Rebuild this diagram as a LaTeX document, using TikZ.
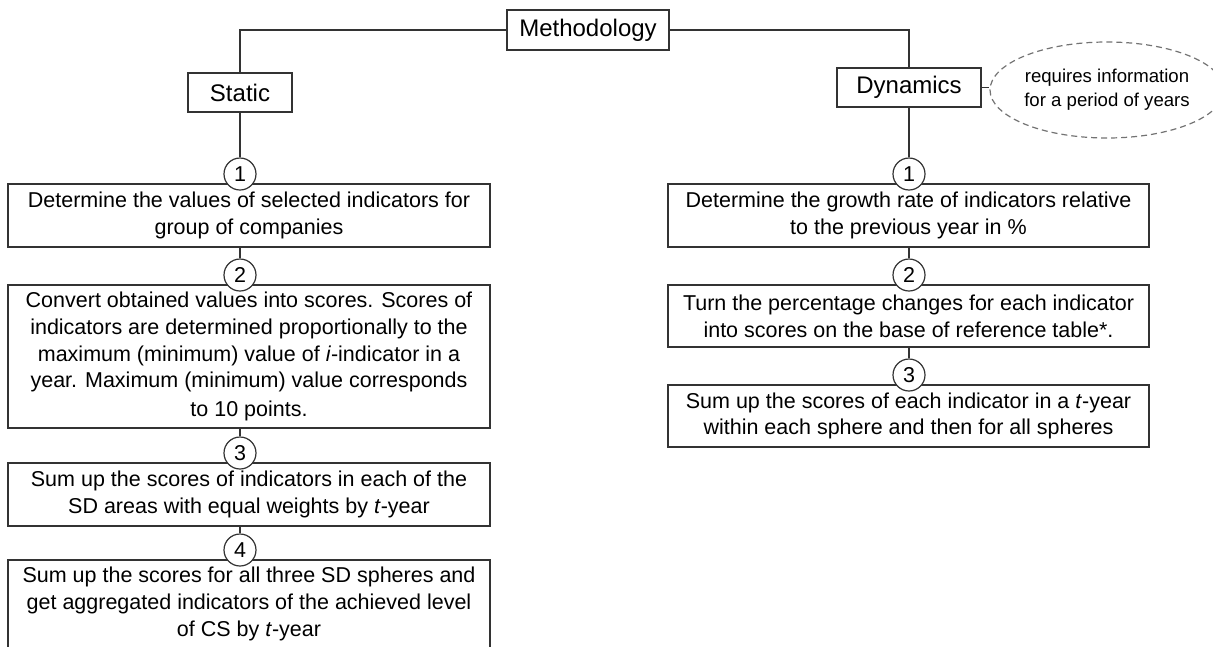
\documentclass[tikz,border=0pt]{standalone}
\usepackage{fontspec}
\setmainfont{Liberation Sans}
\usetikzlibrary{shapes.geometric}
\tikzset{>=latex}
\tikzset{
    wire/.style={draw=black!80, line width=1.2pt},
    head/.style={wire, fill=white, inner sep=0pt, font=\fontsize{24}{28}\selectfont},
    stepbox/.style={wire, fill=white, inner sep=0pt, align=center, font=\fontsize{21.5}{26.7}\selectfont},
    num/.style={wire, circle, fill=white, minimum size=32pt, inner sep=0pt, font=\fontsize{21.5}{26}\selectfont},
    note/.style={ellipse, draw=black!55, dash pattern=on 6pt off 4pt, line width=1.2pt, align=center, inner sep=0pt, font=\fontsize{18.6}{24}\selectfont},
}

\begin{document}
\begin{tikzpicture}[x=1pt,y=-1pt]
    \useasboundingbox (0,0) rectangle (1213,646);

    \node[head, minimum width=162pt, minimum height=40pt] (meth) at (588,30) {Methodology};
    \node[head, minimum width=104pt, minimum height=39pt] (static) at (240,92.5) {Static};
    \node[head, minimum width=144pt, minimum height=39pt] (dyn) at (909,87.5) {Dynamics};
    \node[note, minimum width=202pt, minimum height=96pt] (info) at (1107,90) {requires information\\for a period of years};

    \node[stepbox, minimum width=482pt, minimum height=63pt] (sbox1) at (249,215.5) {Determine the values of selected indicators for\\group of companies};
    \node[stepbox, minimum width=482pt, minimum height=143pt] (sbox2) at (249,356.5) {Convert obtained values into scores. Scores of\\indicators are determined proportionally to the\\maximum (minimum) value of \textit{i}-indicator in a\\year. Maximum (minimum) value corresponds\\[2pt]to 10 points.};
    \node[stepbox, minimum width=482pt, minimum height=63pt] (sbox3) at (249,494.5) {Sum up the scores of indicators in each of the\\SD areas with equal weights by \textit{t}-year};
    \node[stepbox, minimum width=482pt, minimum height=88pt] (sbox4) at (249,604) {Sum up the scores for all three SD spheres and\\get aggregated indicators of the achieved level\\of CS by \textit{t}-year};

    \node[stepbox, minimum width=481pt, minimum height=63pt] (dbox1) at (908.5,215.5) {Determine the growth rate of indicators relative\\to the previous year in \%};
    \node[stepbox, minimum width=481pt, minimum height=62pt] (dbox2) at (908.5,316) {Turn the percentage changes for each indicator\\into scores on the base of reference table*.};
    \node[stepbox, minimum width=481pt, minimum height=62pt] (dbox3) at (908.5,416) {Sum up the scores of each indicator in a \textit{t}-year\\within each sphere and then for all spheres};

    \node[num] (s1) at (240,174) {1};
    \node[num] (s2) at (240,275) {2};
    \node[num] (s3) at (240,453) {3};
    \node[num] (s4) at (240,550) {4};
    \node[num] (d1) at (909,174) {1};
    \node[num] (d2) at (909,275) {2};
    \node[num] (d3) at (909,375) {3};

    \draw[wire] (meth.west) -| (static.north);
    \draw[wire] (meth.east) -| (dyn.north);
    \draw[wire] (dyn.east) -- (info.west |- dyn.east);
    \draw[wire] (static.south) -- (s1.north);
    \draw[wire] (sbox1.south -| s2) -- (s2.north);
    \draw[wire] (sbox2.south -| s3) -- (s3.north);
    \draw[wire] (sbox3.south -| s4) -- (s4.north);
    \draw[wire] (dyn.south) -- (d1.north);
    \draw[wire] (dbox1.south -| d2) -- (d2.north);
    \draw[wire] (dbox2.south -| d3) -- (d3.north);
\end{tikzpicture}
\end{document}
